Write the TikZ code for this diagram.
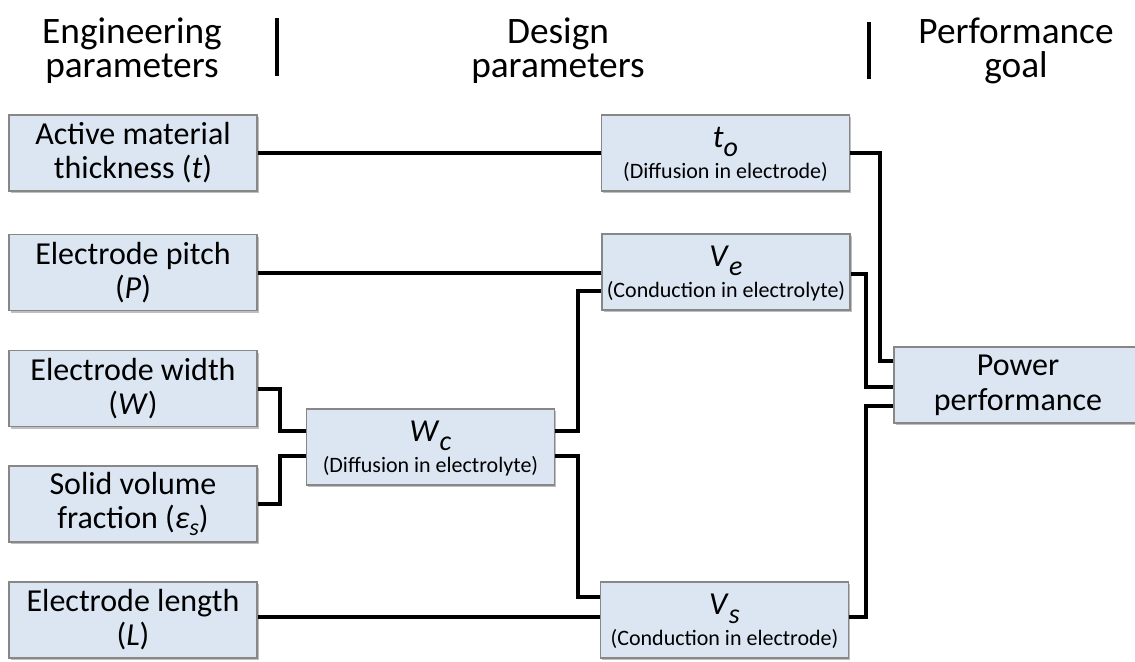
\documentclass[tikz,border=0pt]{standalone}
\usepackage{fontspec}
\setmainfont{Carlito}
\usetikzlibrary{shadows,calc}
\definecolor{boxfill}{RGB}{220,230,242}
\definecolor{boxline}{RGB}{135,135,135}
\newcommand\dsym[2]{\textit{#1}\raisebox{-6.5pt}[0pt][0pt]{\fontsize{21}{21}\selectfont\textit{#2}}}
\begin{document}
\begin{tikzpicture}[x=0.75pt,y=-0.75pt,
  box/.style={draw=boxline, line width=0.9pt, fill=boxfill,
    minimum width=186pt, minimum height=57pt, inner sep=0pt, align=center,
    font=\fontsize{24}{25.5}\selectfont,
    drop shadow={shadow xshift=1.2pt, shadow yshift=-1.5pt, fill=black, opacity=0.25}},
  conn/.style={line width=3pt},
  head/.style={font=\fontsize{28}{25.5}\selectfont, anchor=base, inner sep=0pt},
  symtxt/.style={font=\fontsize{24}{24}\selectfont, anchor=base, inner sep=0pt},
  subtxt/.style={font=\fontsize{16.5}{16.5}\selectfont, anchor=base, inner sep=0pt},
  bar/.style={line width=3pt}]
\useasboundingbox (0,0) rectangle (1135,661);

% headers
\node[head] (h1a) at (132,43) {Engineering};
\node[head] (h1b) at (132,77) {parameters};
\node[head] (h2a) at (558,43) {Design};
\node[head] (h2b) at (558,77) {parameters};
\node[head] (h3a) at (1016,43) {Performance};
\node[head] (h3b) at (1016,77) {goal};
\draw[bar] (277,18) -- (277,76);
\draw[bar] (869,22) -- (869,79);

% engineering parameter boxes
\node[box] (b1) at (133,153) {Active material\\thickness (\textit{t})};
\node[box] (b2) at (133,272.5) {Electrode pitch\\(\textit{P})};
\node[box] (b3) at (133,388.5) {Electrode width\\(\textit{W})};
\node[box] (b4) at (133,504) {Solid volume\\fraction (\textit{ε}\raisebox{-5.5pt}{\fontsize{18}{18}\selectfont\textit{s}})};
\node[box] (b5) at (133,620) {Electrode length\\(\textit{L})};

% design parameter boxes
\node[box] (to) at (725.5,153) {};
\node[box] (ve) at (726,272) {};
\node[box] (wc) at (430.5,447) {};
\node[box] (vs) at (724.5,620) {};
\node[symtxt] (toS) at ($(to.north)+(0,33)$) {\dsym{t}{o}};
\node[subtxt] (toT) at ($(to.north)+(0,64.5)$) {(Diffusion in electrode)};
\node[symtxt] (veS) at ($(ve.north)+(0,33)$) {\dsym{V}{e}};
\node[subtxt] (veT) at ($(ve.north)+(0,64.5)$) {(Conduction in electrolyte)};
\node[symtxt] (wcS) at ($(wc.north)+(0,33)$) {\dsym{W}{c}};
\node[subtxt] (wcT) at ($(wc.north)+(0,64.5)$) {(Diffusion in electrolyte)};
\node[symtxt] (vsS) at ($(vs.north)+(0,33)$) {\dsym{V}{s}};
\node[subtxt] (vsT) at ($(vs.north)+(0,64.5)$) {(Conduction in electrode)};

% performance goal
\node[box, font=\fontsize{24}{26}\selectfont] (pp) at (1018,385) {Power\\performance};

% junction columns
\coordinate (jA) at (280,0);
\coordinate (jB) at (578,0);
\coordinate (jC) at (880,0);
\coordinate (jD) at (866,0);

% connectors
\draw[conn] (b1.east) -- (to.west);
\draw[conn] (b2.east) -- (b2.east -| ve.west);
\draw[conn] (b3.east) -- (b3.east -| jA) |- ([yshift=12pt]wc.west);
\draw[conn] (b4.east) -- (b4.east -| jA) |- ([yshift=-6.75pt]wc.west);
\draw[conn] ([yshift=12pt]wc.east) -- ([yshift=12pt]wc.east -| jB) |- ([yshift=-14.25pt]ve.west);
\draw[conn] ([yshift=-6.75pt]wc.east) -- ([yshift=-6.75pt]wc.east -| jB) |- ([yshift=17.25pt]vs.west);
\draw[conn] ([yshift=2.25pt]b5.east) -- ([yshift=2.25pt]b5.east -| vs.west);
\draw[conn] (to.east) -- (to.east -| jC) |- ([yshift=18pt]pp.west);
\draw[conn] ([yshift=-1.5pt]ve.east) -- ([yshift=-1.5pt]ve.east -| jD) |- ([yshift=-1.5pt]pp.west);
\draw[conn] ([yshift=2.25pt]vs.east) -- ([yshift=2.25pt]vs.east -| jD) |- ([yshift=-15.75pt]pp.west);
\end{tikzpicture}
\end{document}
